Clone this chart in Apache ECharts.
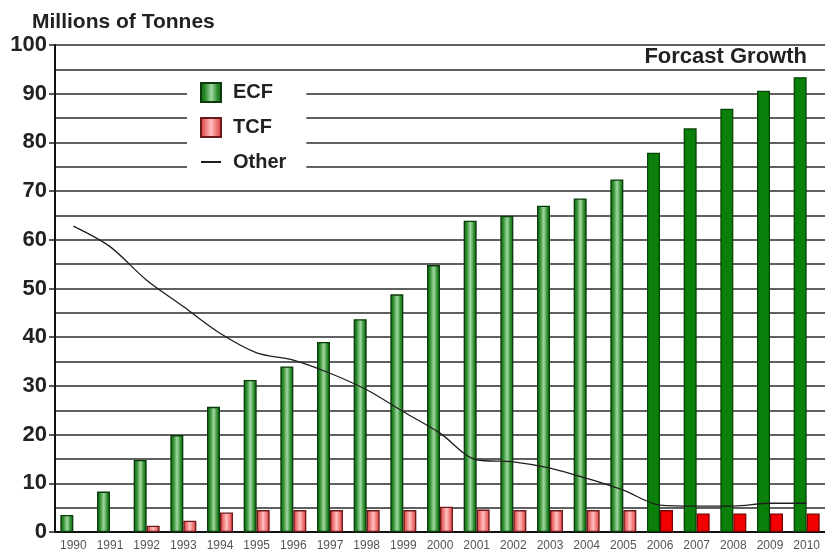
<!DOCTYPE html>
<html>
<head>
<meta charset="utf-8">
<script src="https://cdn.jsdelivr.net/npm/echarts@6/dist/echarts.min.js"></script>
<style>
  html, body { margin: 0; padding: 0; background: #fff; }
  #chart { width: 825px; height: 554px; }
</style>
</head>
<body>
<div id="chart"></div>
<script>
// years on the x axis
var years = ['1990', '1991', '1992', '1993', '1994', '1995', '1996', '1997', '1998', '1999', '2000',
    '2001', '2002', '2003', '2004', '2005', '2006', '2007', '2008', '2009', '2010'];
// millions of tonnes
var ecf = [3.5, 8.3, 14.8, 19.9, 25.7, 31.2, 34, 39, 43.7, 48.8, 54.8,
    63.9, 64.9, 67, 68.5, 72.4, 77.9, 82.9, 86.9, 90.6, 93.4];
var tcf = [null, null, 1.3, 2.3, 4.0, 4.5, 4.5, 4.5, 4.5, 4.5, 5.2,
    4.6, 4.5, 4.5, 4.5, 4.5, 4.5, 3.8, 3.8, 3.8, 3.8];
var other = [62.8, 58.6, 51.7, 46.3, 40.8, 36.8, 35.3, 32.6, 29.2, 24.7, 20.3,
    14.8, 14.4, 13.1, 11, 8.6, 5.5, 5.3, 5.3, 5.9, 5.9];
// forecast years start here (drawn flat)
var forecastFrom = '2006';

var FONT = "'Liberation Sans', Arial, sans-serif";

// shaded "tube" look for the historic bars
var ecfShade = new echarts.graphic.LinearGradient(0, 0, 1, 0, [
    {offset: 0, color: '#0a660a'},
    {offset: 0.22, color: '#2a8a2a'},
    {offset: 0.52, color: '#a2d8a2'},
    {offset: 0.8, color: '#2a8a2a'},
    {offset: 1, color: '#0a660a'}
]);
var tcfShade = new echarts.graphic.LinearGradient(0, 0, 1, 0, [
    {offset: 0, color: '#dc3030'},
    {offset: 0.5, color: '#ffc0c0'},
    {offset: 1, color: '#dc3030'}
]);

function styled(values, solid, border) {
    return values.map(function (v, i) {
        if (years[i] >= forecastFrom) {
            return {value: v, itemStyle: {color: solid, borderColor: border}};
        }
        return v;
    });
}

var chart = echarts.init(document.getElementById('chart'));

chart.setOption({
    animation: false,
    backgroundColor: '#fff',
    title: [{
        text: 'Millions of Tonnes',
        left: 27,
        top: 7,
        textStyle: {fontFamily: FONT, fontSize: 21, fontWeight: 'bold', color: '#222'}
    }, {
        text: 'Forcast Growth',
        right: 13,
        top: 41,
        textStyle: {fontFamily: FONT, fontSize: 22, fontWeight: 'bold', color: '#222'}
    }],
    legend: {
        orient: 'vertical',
        left: 187,
        top: 74,
        backgroundColor: '#fff',
        padding: [8, 20, 12, 13],
        itemGap: 14,
        itemWidth: 20,
        itemHeight: 19,
        textStyle: {fontFamily: FONT, fontSize: 20, fontWeight: 'bold', color: '#222', padding: [0, 0, 0, 7]},
        data: [
            {name: 'ECF', icon: 'rect'},
            {name: 'TCF', icon: 'rect'},
            {name: 'Other', icon: 'path://M2 9.2h16v1.6H2z'}
        ]
    },
    grid: {left: 55, top: 45, bottom: 22, width: 777, containLabel: false},
    xAxis: {
        type: 'category',
        data: years,
        axisLine: {lineStyle: {color: '#111', width: 2}},
        axisTick: {show: false},
        axisLabel: {fontFamily: FONT, fontSize: 12, color: '#555', margin: 8, interval: 0},
        splitLine: {show: false}
    },
    yAxis: {
        type: 'value',
        min: 0,
        max: 100,
        interval: 10,
        axisLine: {show: true, lineStyle: {color: '#111', width: 2}},
        axisTick: {show: true, length: 6, lineStyle: {color: '#222', width: 1.5}},
        axisLabel: {fontFamily: FONT, fontSize: 22, fontWeight: 'bold', color: '#222', margin: 8},
        splitLine: {show: true, lineStyle: {color: '#2b2b2b', width: 1.6}},
        minorTick: {show: false, splitNumber: 2},
        minorSplitLine: {show: true, lineStyle: {color: '#2b2b2b', width: 1.6}}
    },
    series: [{
        name: 'ECF',
        type: 'bar',
        barWidth: 13,
        barGap: '0%',
        z: 3,
        itemStyle: {color: ecfShade, borderColor: '#0b3a0b', borderWidth: 1.3},
        data: styled(ecf, '#0a7f0a', '#064506')
    }, {
        name: 'TCF',
        type: 'bar',
        barWidth: 13,
        z: 3,
        itemStyle: {color: tcfShade, borderColor: '#6a1a1a', borderWidth: 1.3},
        data: styled(tcf, '#f20000', '#7a0000')
    }, {
        name: 'Other',
        type: 'line',
        z: 5,
        symbol: 'none',
        smooth: 0.3,
        lineStyle: {color: '#1e1e1e', width: 1.3},
        itemStyle: {color: '#1e1e1e'},
        data: other
    }]
});
</script>
</body>
</html>
